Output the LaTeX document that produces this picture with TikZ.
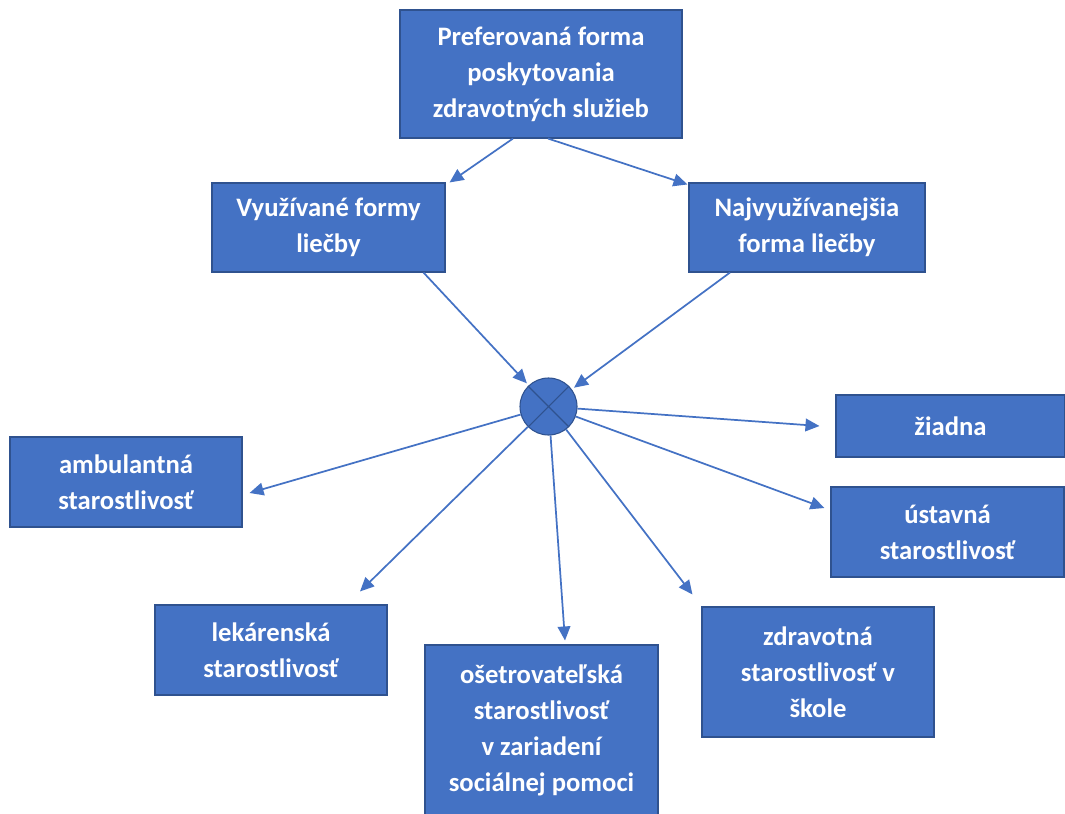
\documentclass[tikz,border=0pt]{standalone}
\usepackage{fontspec}
\setmainfont{Carlito}
\usetikzlibrary{arrows.meta,calc}
\definecolor{boxblue}{HTML}{4472C4}
\definecolor{edgeblue}{HTML}{2F528F}
\def\u{0.75pt}
\tikzset{
  box/.style={draw=edgeblue, line width=0.8pt, fill=boxblue, text=white,
    font=\fontsize{20}{27}\selectfont\bfseries, align=center, inner sep=0pt},
  arr/.style={draw=boxblue, line width=1.3pt,
    -{Triangle[length=10.5pt,width=9.5pt]}},
  hub/.style={circle, draw=edgeblue, line width=0.8pt, fill=boxblue,
    minimum size=57*\u, inner sep=0pt}
}
\begin{document}
\begin{tikzpicture}[x=0.75pt,y=-0.75pt]
\useasboundingbox (0,0) rectangle (1065,814);
\node[box, minimum width=282*\u, minimum height=128*\u] (top) at (541,74)
  {Preferovaná forma\\poskytovania\\zdravotných služieb};
\node[box, minimum width=233*\u, minimum height=89*\u] (vyuz) at (328.5,227.5)
  {Využívané formy\\liečby};
\node[box, minimum width=236*\u, minimum height=89*\u] (najv) at (807,227.5)
  {Najvyužívanejšia\\forma liečby};
\node[hub] (circ) at (548.5,406.5) {};
\draw[edgeblue, line width=0.8pt] (circ.north west) -- (circ.south east)
  (circ.north east) -- (circ.south west);
\node[box, minimum width=229*\u, minimum height=62*\u] (ziad) at (950.5,426)
  {žiadna};
\node[box, minimum width=233*\u, minimum height=90*\u] (ust) at (947.5,532)
  {ústavná\\starostlivosť};
\node[box, minimum width=232*\u, minimum height=90*\u] (amb) at (126,482)
  {ambulantná\\starostlivosť};
\node[box, minimum width=232*\u, minimum height=90*\u] (lek) at (271,650)
  {lekárenská\\starostlivosť};
\node[box, minimum width=233*\u, minimum height=170*\u] (ose) at (541.5,730)
  {ošetrovateľská\\starostlivosť\\v zariadení\\sociálnej pomoci};
\node[box, minimum width=232*\u, minimum height=130*\u] (zdr) at (818,672)
  {zdravotná\\starostlivosť v\\škole};
% top arrows
\draw[arr] ([xshift=-28*\u]top.south) -- ([xshift=4*\u]vyuz.north east);
\draw[arr] ([xshift=7*\u]top.south) -- ([xshift=-1*\u,yshift=-2*\u]najv.north west);
\draw[arr, shorten >=2pt] ([xshift=95*\u]vyuz.south) -- (circ);
\draw[arr, shorten >=2pt] ([xshift=-77*\u]najv.south) -- (circ);
% outgoing arrows
\draw[arr] (circ) -- ([xshift=-16*\u]ziad.west);
\draw[arr] (circ) -- ([xshift=-6*\u,yshift=24*\u]ust.west);
\draw[arr] (circ) -- ([xshift=7*\u,yshift=-11*\u]amb.east);
\draw[arr] (circ) -- ([xshift=89*\u,yshift=13*\u]lek.north);
\draw[arr] (circ) -- ([xshift=23.5*\u,yshift=4*\u]ose.north);
\draw[arr] (circ) -- ([xshift=-9*\u,yshift=12*\u]zdr.north west);
\end{tikzpicture}
\end{document}
